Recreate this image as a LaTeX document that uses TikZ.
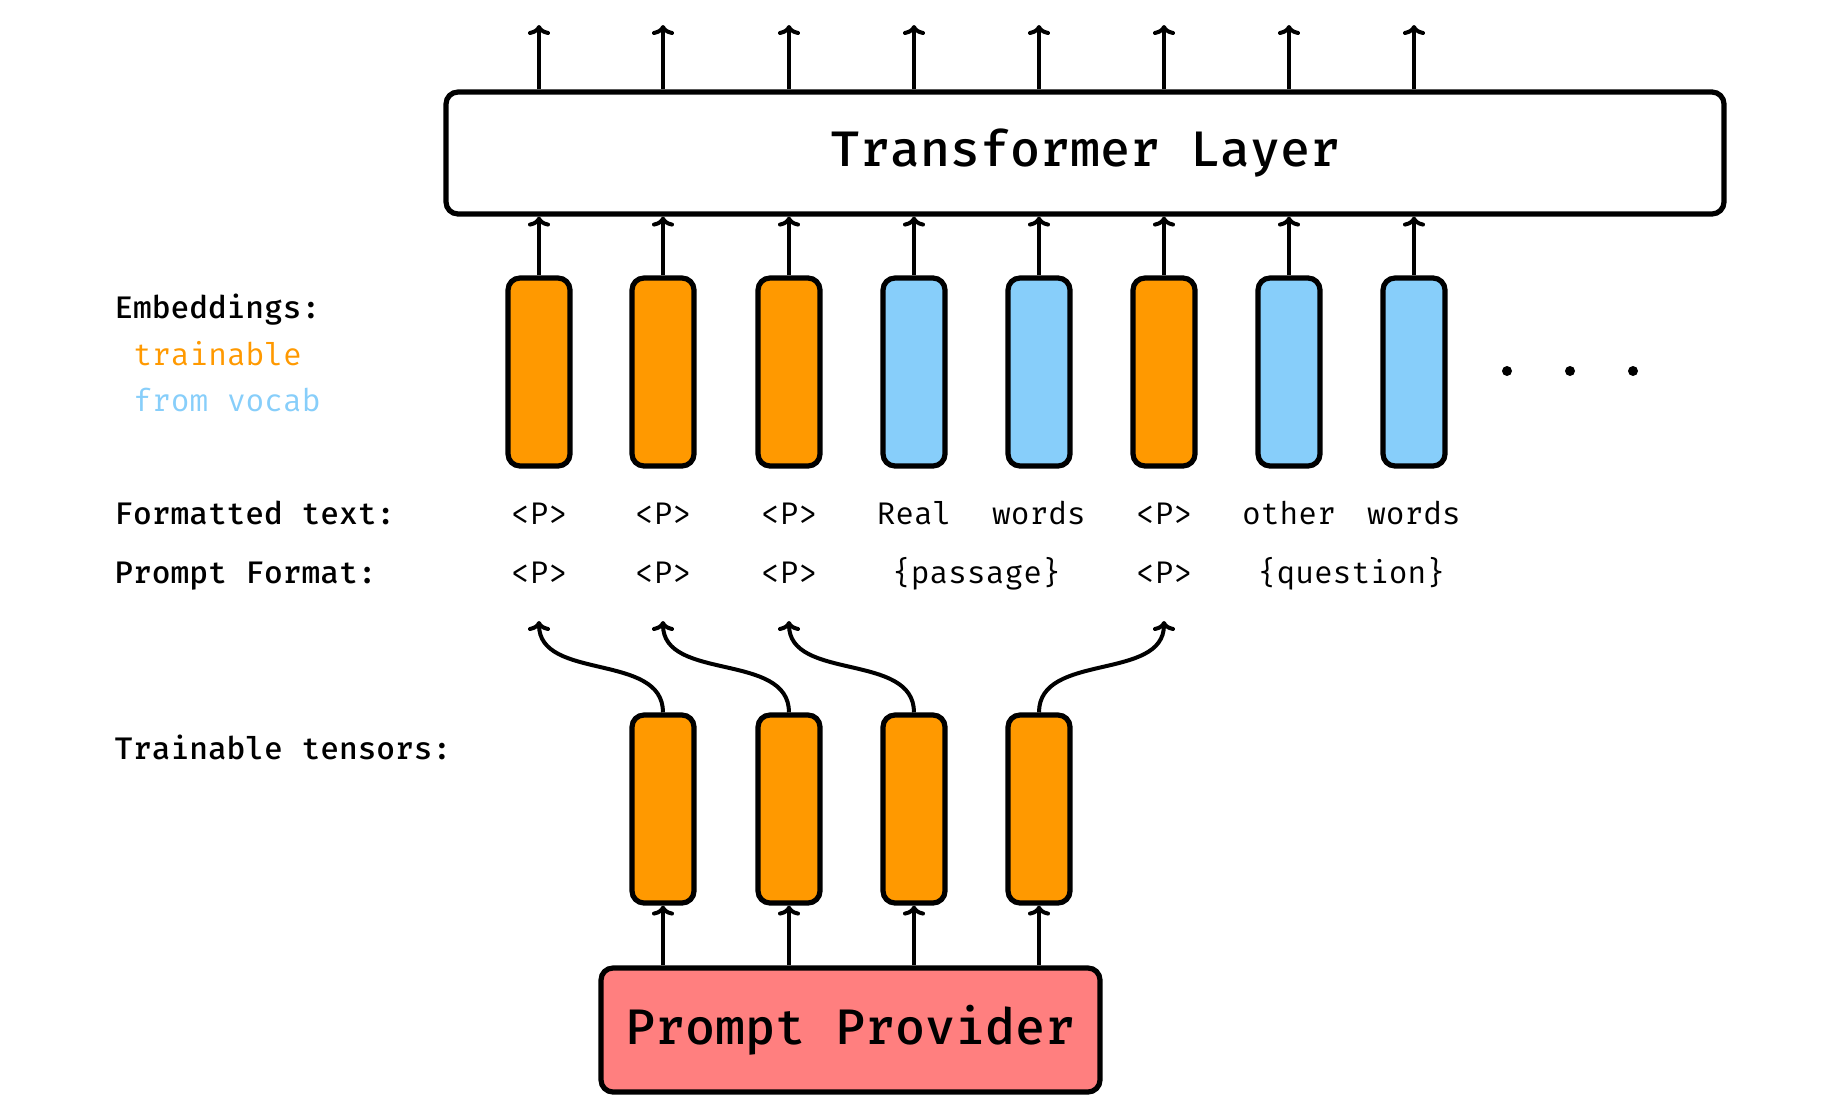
\documentclass[tikz,border=0pt]{standalone}
\usepackage{fontspec}
\setmonofont{Fira Mono}
\usetikzlibrary{arrows.meta}
\definecolor{orng}{RGB}{255,153,0}
\definecolor{skyb}{RGB}{135,206,250}
\definecolor{salm}{RGB}{255,127,127}
\begin{document}
\begin{tikzpicture}[x=0.5pt,y=-0.5pt,
  font=\ttfamily\fontsize{15.6pt}{18pt}\selectfont,
  emb/.style={draw, line width=2.6pt, rounded corners=6pt, minimum width=31pt, minimum height=94pt, inner sep=0pt},
  tr/.style={emb, fill=orng},
  vb/.style={emb, fill=skyb},
  arr/.style={line width=2pt, -{To[length=5pt,width=11pt]}},
  lbl/.style={anchor=base west, inner sep=0pt, font=\ttfamily\bfseries\fontsize{15.6pt}{18pt}\selectfont},
  tok/.style={anchor=base, inner sep=0pt},
  bigbox/.style={draw, line width=2.6pt, rounded corners=6pt, inner sep=0pt,
    font=\ttfamily\bfseries\fontsize{25pt}{30pt}\selectfont, text height=17pt, text depth=4pt}
]
\useasboundingbox (0,0) rectangle (1828,1119);

% Transformer layer
\node[bigbox, minimum width=639pt, minimum height=61pt] (T) at (1085,153) {Transformer Layer};

% Embeddings
\foreach \i/\x/\c in {1/539/tr,2/663/tr,3/789/tr,4/914/vb,5/1039/vb,6/1164/tr,7/1289/vb,8/1414/vb} {
  \node[\c] (e\i) at (\x,372) {};
  \draw[arr] (e\i.north) -- (e\i.north |- T.south);
  \coordinate (o\i) at (\x,25);
  \draw[arr] (e\i.north |- T.north) -- (o\i);
}

% dots
\fill (1507,371) circle (2.5pt);
\fill (1570,371) circle (2.5pt);
\fill (1633,371) circle (2.5pt);

% Left labels
\node[lbl] (lemb) at (114,318) {Embeddings:};
\node[lbl, font=\ttfamily\fontsize{15.6pt}{18pt}\selectfont, text=orng] (ltr) at (133,365) {trainable};
\node[lbl, font=\ttfamily\fontsize{15.6pt}{18pt}\selectfont, text=skyb] (lvo) at (133,411) {from vocab};
\node[lbl] (lft) at (114,524) {Formatted text:};
\node[lbl] (lpf) at (114,583) {Prompt Format:};
\node[lbl] (ltt) at (114,759) {Trainable tensors:};

% Formatted text row
\node[tok] (f1) at (539,524) {<P>};
\node[tok] (f2) at (663,524) {<P>};
\node[tok] (f3) at (789,524) {<P>};
\node[tok] (f4) at (914,524) {Real};
\node[tok] (f5) at (1039,524) {words};
\node[tok] (f6) at (1164,524) {<P>};
\node[tok] (f7) at (1289,524) {other};
\node[tok] (f8) at (1414,524) {words};

% Prompt format row
\node[tok] (p1) at (539,583) {<P>};
\node[tok] (p2) at (663,583) {<P>};
\node[tok] (p3) at (789,583) {<P>};
\node[tok] (p4) at (976.5,583) {\{passage\}};
\node[tok] (p6) at (1164,583) {<P>};
\node[tok] (p7) at (1351.5,583) {\{question\}};

% Trainable tensors
\foreach \i/\x in {1/663,2/789,3/914,4/1039} {
  \node[tr, minimum height=94pt] (t\i) at (\x,809) {};
}

% Prompt provider
\node[bigbox, fill=salm, minimum width=249.5pt, minimum height=62pt, text depth=3pt] (P) at (850.5,1030) {Prompt Provider};
\foreach \i in {1,2,3,4} {
  \draw[arr] (t\i.south |- P.north) -- (t\i.south);
}

% curved arrows
\coordinate (c1) at (539,621);
\coordinate (c2) at (663,621);
\coordinate (c3) at (789,621);
\coordinate (c4) at (1164,621);
\foreach \i in {1,2,3,4} {
  \draw[arr] (t\i.north) to[out=90,in=-90] (c\i);
}
\end{tikzpicture}
\end{document}
